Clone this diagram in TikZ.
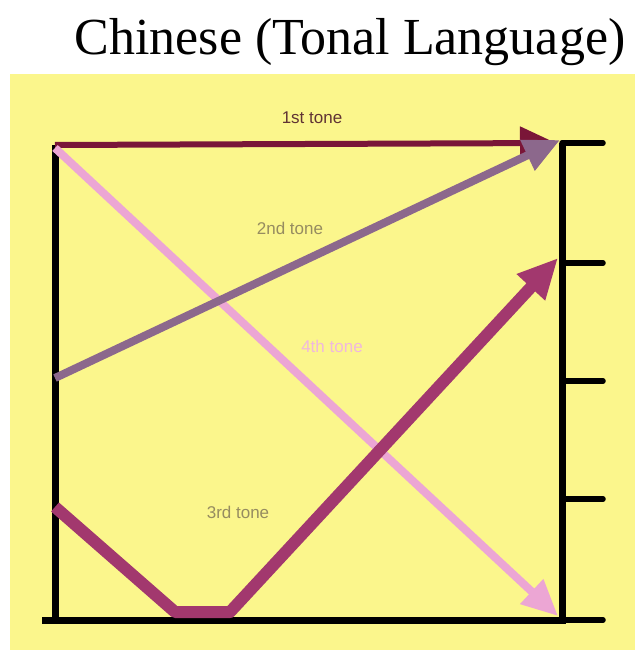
\documentclass[tikz,border=0pt]{standalone}
\usepackage{fontspec}
\setmainfont{Liberation Serif}
\setsansfont{Liberation Sans}
\usetikzlibrary{arrows.meta,positioning}
\definecolor{chartyellow}{RGB}{251,246,140}
\definecolor{toneone}{RGB}{122,22,56}
\definecolor{tonetwo}{RGB}{140,104,140}
\definecolor{tonethree}{RGB}{162,56,110}
\definecolor{tonefour}{RGB}{236,166,212}
\definecolor{labelolive}{RGB}{150,140,96}

\begin{document}
\begin{tikzpicture}[
        x=1pt, y=-1pt,
        axis/.style={line width=7pt, black},
        tick/.style={line width=5.5pt, black, line cap=round},
        tone/.style={-{Triangle[length=36pt, width=32pt]}, line width=7pt},
        tonelabel/.style={font=\sffamily\fontsize{17}{17}\selectfont, inner sep=0pt}
    ]
        \useasboundingbox (0,0) rectangle (635,660);
        \fill[chartyellow] (10,74) rectangle (635,650);

        % axes frame
        \coordinate (tl) at (55,145);
        \coordinate (bl) at (55,620);
        \coordinate (br) at (562,620);
        \coordinate (tr) at (562,143);
        \draw[axis] (tl) -- (bl);
        \draw[axis] (42,620) -- (br) -- (tr);
        \foreach \ty in {143,263,381,499,620}
            \draw[tick] (562,\ty) -- (603,\ty);

        % tone contours
        \coordinate (onestart) at (55,145);
        \coordinate (oneend) at (556,143);
        \coordinate (twostart) at (55,378);
        \coordinate (twoend) at (560,140);
        \coordinate (threestart) at (55,507);
        \coordinate (threelowa) at (175,612);
        \coordinate (threelowb) at (230,612);
        \coordinate (threeend) at (558,258);
        \coordinate (fourstart) at (55,148);
        \coordinate (fourend) at (558,616);

        \draw[tone, toneone, line width=6pt] (onestart) -- (oneend);
        \draw[tone, tonefour, line width=8pt] (fourstart) -- (fourend);
        \draw[tone, tonetwo, line width=8pt] (twostart) -- (twoend);
        \draw[tone, tonethree, line width=12pt, line join=round,
              -{Triangle[length=40pt, width=36pt]}] (threestart) -- (threelowa) -- (threelowb) -- (threeend);

        % labels
        \node[tonelabel, text=toneone!60!black!70!labelolive] (onelabel) at (312,118) {1st tone};
        \node[tonelabel, text=labelolive] (twolabel) at (290,228) {2nd tone};
        \node[tonelabel, text=tonefour!80!white] (fourlabel) at (332,346) {4th tone};
        \node[tonelabel, text=labelolive] (threelabel) at (238,512) {3rd tone};

        \node[font=\rmfamily\fontsize{52}{52}\selectfont, inner sep=0pt] (title) at (350,42) {Chinese (Tonal Language)};
    \end{tikzpicture}
\end{document}
